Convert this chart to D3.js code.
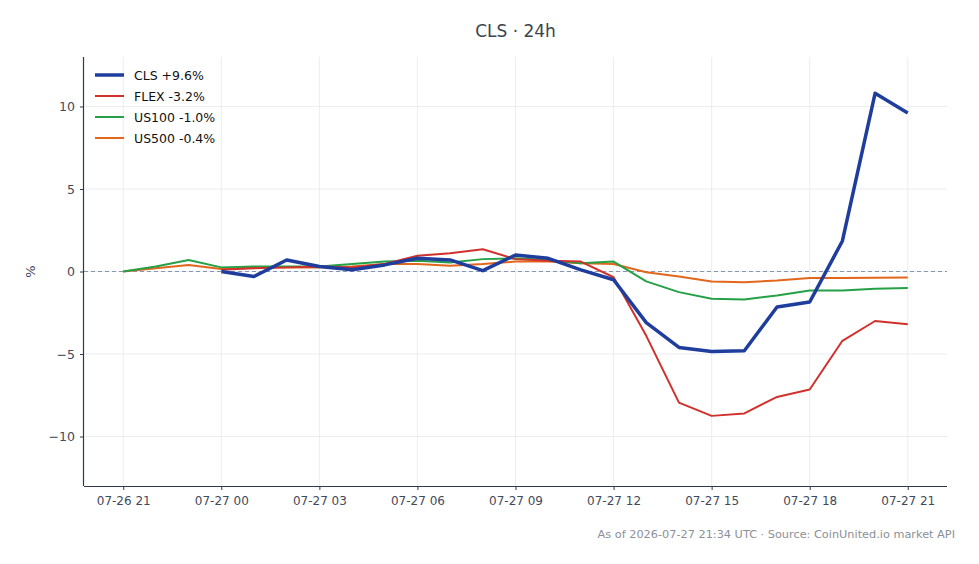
<!DOCTYPE html>
<html>
<head>
<meta charset="utf-8">
<script src="https://cdn.jsdelivr.net/npm/d3@7"></script>
<style>
  body { margin: 0; background: #fff; }
  text { font-family: "DejaVu Sans", sans-serif; }
</style>
</head>
<body>
<script>
// hourly timestamps (UTC), 07-26 21:00 -> 07-27 21:00
var hours = [
  "2026-07-26T21:00Z", "2026-07-26T22:00Z", "2026-07-26T23:00Z",
  "2026-07-27T00:00Z", "2026-07-27T01:00Z", "2026-07-27T02:00Z", "2026-07-27T03:00Z",
  "2026-07-27T04:00Z", "2026-07-27T05:00Z", "2026-07-27T06:00Z", "2026-07-27T07:00Z",
  "2026-07-27T08:00Z", "2026-07-27T09:00Z", "2026-07-27T10:00Z", "2026-07-27T11:00Z",
  "2026-07-27T12:00Z", "2026-07-27T13:00Z", "2026-07-27T14:00Z", "2026-07-27T15:00Z",
  "2026-07-27T16:00Z", "2026-07-27T17:00Z", "2026-07-27T18:00Z", "2026-07-27T19:00Z",
  "2026-07-27T20:00Z", "2026-07-27T21:00Z"
];

// % change, null where the series has no quote
var cls   = [null, null, null, 0, -0.3, 0.7, 0.3, 0.1, 0.4, 0.8, 0.7, 0.05, 1.0, 0.8, 0.1, -0.5, -3.1, -4.6, -4.85, -4.8, -2.15, -1.85, 1.85, 10.8, 9.6];
var flex  = [null, null, null, 0.1, 0.2, 0.25, 0.3, 0.25, 0.45, 0.95, 1.1, 1.35, 0.75, 0.65, 0.6, -0.35, -3.9, -7.95, -8.75, -8.6, -7.6, -7.15, -4.2, -3.0, -3.2];
var us100 = [0, 0.3, 0.7, 0.25, 0.3, 0.3, 0.3, 0.45, 0.6, 0.65, 0.55, 0.75, 0.8, 0.7, 0.5, 0.6, -0.6, -1.25, -1.65, -1.7, -1.45, -1.15, -1.15, -1.05, -1.0];
var us500 = [0, 0.2, 0.4, 0.15, 0.25, 0.25, 0.25, 0.3, 0.45, 0.45, 0.35, 0.45, 0.6, 0.6, 0.5, 0.45, -0.05, -0.3, -0.6, -0.65, -0.55, -0.4, -0.4, -0.38, -0.37];

var seriesNames = ["CLS +9.6%", "FLEX -3.2%", "US100 -1.0%", "US500 -0.4%"];
var seriesColors = ["#1f3d9c", "#d0312d", "#25a046", "#e2661c"];
var seriesWidths = [3.5, 2, 2, 2];
var seriesValues = [cls, flex, us100, us500];

var xTicks = ["2026-07-26T21:00Z", "2026-07-27T00:00Z", "2026-07-27T03:00Z", "2026-07-27T06:00Z",
  "2026-07-27T09:00Z", "2026-07-27T12:00Z", "2026-07-27T15:00Z", "2026-07-27T18:00Z", "2026-07-27T21:00Z"];
var yTicks = [-10, -5, 0, 5, 10];

var svg = d3.select("body")
    .append("svg")
    .attr("width", 979)
    .attr("height", 564)
    .style("display", "block");

var margin = {top: 57, right: 32, bottom: 78, left: 84};
var width = 979 - margin.left - margin.right;
var height = 564 - margin.top - margin.bottom;
var g = svg.append("g").attr("transform", "translate(" + margin.left + "," + margin.top + ")");

var times = hours.map(function (h) { return new Date(h); });
var pad = 1.2 * 3600 * 1000;
var x = d3.scaleUtc()
    .domain([+times[0] - pad, +times[times.length - 1] + pad])
    .range([0, width]);
var y = d3.scaleLinear()
    .domain([-13, 13])
    .range([height, 0]);

// grid
g.append("g").selectAll("line")
    .data(xTicks.map(function (t) { return new Date(t); }))
    .enter().append("line")
    .attr("x1", function (d) { return x(d); })
    .attr("x2", function (d) { return x(d); })
    .attr("y1", 0).attr("y2", height)
    .attr("stroke", "#e6e8ec").attr("stroke-width", 0.8);
g.append("g").selectAll("line")
    .data(yTicks)
    .enter().append("line")
    .attr("x1", 0).attr("x2", width)
    .attr("y1", function (d) { return y(d); })
    .attr("y2", function (d) { return y(d); })
    .attr("stroke", "#e6e8ec").attr("stroke-width", 0.8);

// zero line
g.append("line")
    .attr("x1", 0).attr("x2", width)
    .attr("y1", y(0)).attr("y2", y(0))
    .attr("stroke", "#8596b0").attr("stroke-width", 1)
    .attr("stroke-dasharray", "4,3");

var line = d3.line()
    .x(function (d) { return x(d.t); })
    .y(function (d) { return y(d.v); });

// draw thin ones first, CLS on top
[3, 2, 1, 0].forEach(function (s) {
    var pts = [];
    seriesValues[s].forEach(function (v, i) {
        if (v !== null) pts.push({t: times[i], v: v});
    });
    g.append("path")
        .datum(pts)
        .attr("d", line)
        .attr("fill", "none")
        .attr("stroke", seriesColors[s])
        .attr("stroke-width", seriesWidths[s])
        .attr("stroke-linejoin", "round");
});

// axes
var axisColor = "#2f3b4c";
var xAxis = d3.axisBottom(x)
    .tickValues(xTicks.map(function (t) { return new Date(t); }))
    .tickFormat(d3.utcFormat("%m-%d %H"))
    .tickSize(4).tickPadding(6);
var gx = g.append("g").attr("transform", "translate(0," + height + ")").call(xAxis);
gx.select(".domain").attr("stroke", axisColor).attr("stroke-width", 1.2).attr("d", "M0,0.5H" + width);
gx.selectAll(".tick line").attr("stroke", axisColor);
gx.selectAll("text").attr("fill", "#3f4a5a").style("font-size", "12px").style("font-family", "DejaVu Sans");

var yAxis = d3.axisLeft(y)
    .tickValues(yTicks)
    .tickSize(4).tickPadding(5);
var gy = g.append("g").call(yAxis);
gy.select(".domain").attr("stroke", axisColor).attr("stroke-width", 1.2).attr("d", "M-0.5,0V" + height);
gy.selectAll(".tick line").attr("stroke", axisColor);
gy.selectAll("text").attr("fill", "#3f4a5a").style("font-size", "12.5px").style("font-family", "DejaVu Sans");

svg.append("text")
    .attr("transform", "translate(35," + (margin.top + y(0)) + ") rotate(-90)")
    .attr("text-anchor", "middle")
    .attr("fill", "#3f4a5a")
    .style("font-size", "13px")
    .text("%");

// title
svg.append("text")
    .attr("x", margin.left + width / 2)
    .attr("y", 37)
    .attr("text-anchor", "middle")
    .attr("fill", "#3a4350")
    .style("font-size", "17px")
    .text("CLS \u00b7 24h");

// legend
var legend = svg.append("g").attr("transform", "translate(95,75)");
seriesNames.forEach(function (name, i) {
    legend.append("line")
        .attr("x1", 0).attr("x2", 29)
        .attr("y1", i * 21).attr("y2", i * 21)
        .attr("stroke", seriesColors[i])
        .attr("stroke-width", seriesWidths[i]);
    legend.append("text")
        .attr("x", 39).attr("y", i * 21 + 4.5)
        .attr("fill", "#111")
        .style("font-size", "12.5px")
        .text(name);
});

// footer
svg.append("text")
    .attr("x", 955)
    .attr("y", 538)
    .attr("text-anchor", "end")
    .attr("fill", "#8b9099")
    .style("font-size", "11.3px")
    .text("As of 2026-07-27 21:34 UTC \u00b7 Source: CoinUnited.io market API");
</script>
</body>
</html>
